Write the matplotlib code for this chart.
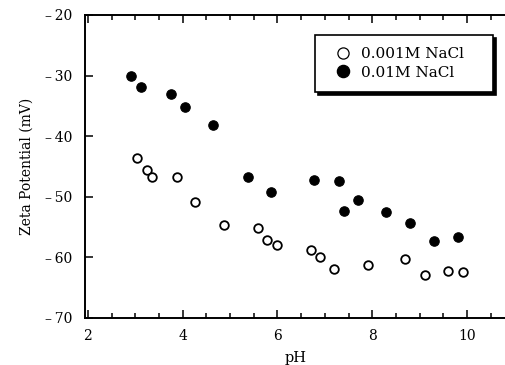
import matplotlib
matplotlib.use('Agg')
import matplotlib.pyplot as plt
from matplotlib.ticker import MultipleLocator, FixedLocator

# ── data ────────────────────────────────────────────────────────────────────
ph_low = [3.04, 3.25, 3.36, 3.87, 4.27, 4.87, 5.58, 5.78, 5.99, 6.70,
          6.90, 7.19, 7.90, 8.70, 9.11, 9.60, 9.91]
zeta_low = [-43.6, -45.6, -46.8, -46.7, -50.9, -54.6, -55.1, -57.2, -58.0, -58.8,
            -60.0, -61.9, -61.2, -60.2, -62.9, -62.2, -62.4]

ph_high = [2.92, 3.13, 3.75, 4.04, 4.65, 5.37, 5.87, 6.78, 7.29, 7.40,
           7.70, 8.29, 8.79, 9.31, 9.80]
zeta_high = [-30.0, -31.9, -33.0, -35.2, -38.1, -46.8, -49.2, -47.3, -47.4, -52.3,
             -50.5, -52.5, -54.4, -57.3, -56.6]

xticks = [2, 4, 6, 8, 10]
yticks = [-70, -60, -50, -40, -30, -20]
ytick_labels = ['\u2013\u200970', '\u2013\u200960', '\u2013\u200950',
                '\u2013\u200940', '\u2013\u200930', '\u2013\u200920']

plt.rcParams['font.family'] = ['DejaVu Serif']

fig = plt.figure(figsize=(5.06, 3.65), dpi=100, facecolor='white')
ax = fig.add_axes([0.168, 0.129, 0.832, 0.830])

ax.plot(ph_low, zeta_low, 'o', ms=6.2, mfc='white', mec='black', mew=1.3,
        label='0.001M NaCl', zorder=3)
ax.plot(ph_high, zeta_high, 'o', ms=6.8, mfc='black', mec='black', mew=0.8,
        label='0.01M NaCl', zorder=3)

ax.set_xlim(1.94, 10.82)
ax.set_ylim(-70, -20)

ax.xaxis.set_major_locator(FixedLocator(xticks))
ax.xaxis.set_minor_locator(MultipleLocator(0.5))
ax.set_yticks(yticks)
ax.set_yticklabels(ytick_labels)

ax.tick_params(axis='x', which='both', direction='in', top=True, bottom=True,
               labelsize=10, pad=8, width=1.1)
ax.tick_params(axis='x', which='major', length=6)
ax.tick_params(axis='x', which='minor', length=3.5)
ax.tick_params(axis='y', which='major', direction='in', length=6, width=1.1,
               labelsize=10, pad=9, right=False)

for side in ['left', 'bottom', 'top']:
    ax.spines[side].set_linewidth(1.4)
ax.spines['right'].set_visible(False)

ax.set_xlabel('pH', fontsize=10.5, labelpad=6)
ax.set_ylabel('Zeta Potential (mV)', fontsize=10, labelpad=8)

leg = ax.legend(loc='upper left', bbox_to_anchor=(0.546, 0.752, 0.423, 0.182),
                mode='expand', fontsize=11, frameon=True, fancybox=False,
                shadow={'color': 'black', 'alpha': 1.0}, borderpad=0.8,
                handletextpad=0.2, labelspacing=0.3, handlelength=2.05,
                borderaxespad=0, markerscale=1.3)
leg.get_frame().set_edgecolor('black')
leg.get_frame().set_linewidth(1.2)
for h in leg.legend_handles:
    h.set_markeredgewidth(0.9)

plt.savefig('out.png', dpi=100, facecolor='white')
plt.close()
